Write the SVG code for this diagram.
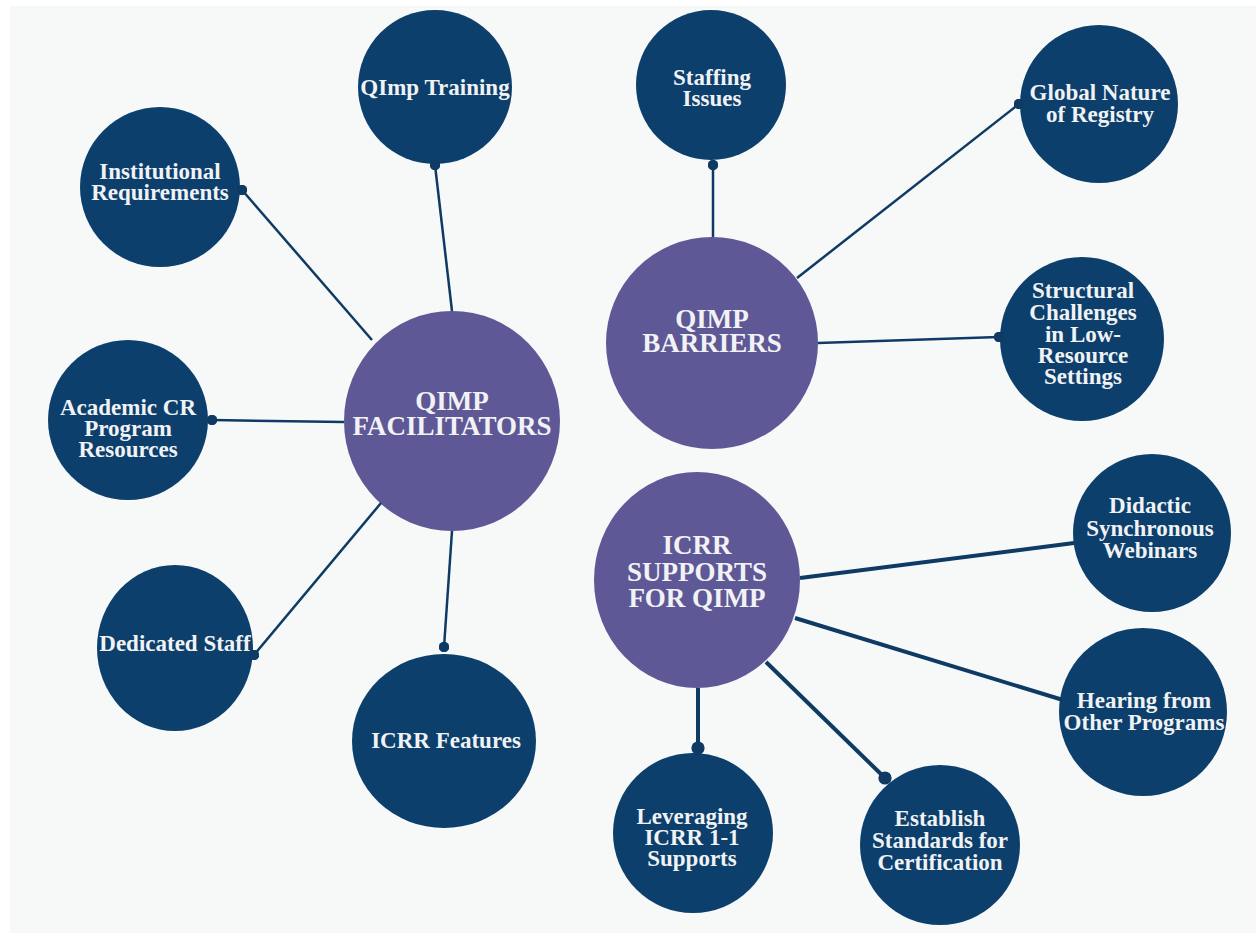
<svg xmlns="http://www.w3.org/2000/svg" width="1256" height="937" viewBox="0 0 1256 937">
  <defs>
    <style>
      .leaf { fill: #0c3f6c; }
      .hub { fill: #5f5896; }
      text { font-family: "Liberation Serif", "Times New Roman", serif; font-weight: bold; fill: #f1f2f4; text-anchor: middle; }
      .lt { font-size: 23px; }
      .ht { font-size: 27px; }
      .edge { stroke: #0f3a63; stroke-width: 2.5; fill: none; }
      .edge.thick { stroke-width: 4; }
    </style>
    <marker id="dot" viewBox="0 0 10 10" refX="5" refY="5" markerWidth="4.2" markerHeight="4.2" markerUnits="strokeWidth">
      <circle cx="5" cy="5" r="5" fill="#0f3a63"/>
    </marker>
    <marker id="dotS" viewBox="0 0 10 10" refX="5" refY="5" markerWidth="3.3" markerHeight="3.3" markerUnits="strokeWidth">
      <circle cx="5" cy="5" r="5" fill="#0f3a63"/>
    </marker>
  </defs>

  <!-- page -->
  <rect x="0" y="0" width="1256" height="937" fill="#ffffff"/>
  <rect x="10" y="6" width="1246" height="927" fill="#f7f9f9"/>

  <!-- nodes -->
  <g id="nodes">
    <g id="qimp-facilitators">
      <ellipse class="hub" cx="452" cy="421" rx="108" ry="110"/>
      <text class="ht" x="452" y="410">QIMP</text>
      <text class="ht" x="452" y="435">FACILITATORS</text>
    </g>
    <g id="qimp-training">
      <circle class="leaf" cx="435" cy="87" r="77"/>
      <text class="lt" x="435" y="95">QImp Training</text>
    </g>
    <g id="institutional-requirements">
      <circle class="leaf" cx="160" cy="187" r="80"/>
      <text class="lt" x="160" y="179">Institutional</text>
      <text class="lt" x="160" y="200">Requirements</text>
    </g>
    <g id="academic-cr-program-resources">
      <circle class="leaf" cx="128" cy="420" r="80"/>
      <text class="lt" x="128" y="415">Academic CR</text>
      <text class="lt" x="128" y="436">Program</text>
      <text class="lt" x="128" y="457">Resources</text>
    </g>
    <g id="dedicated-staff">
      <ellipse class="leaf" cx="175" cy="648" rx="78" ry="83"/>
      <text class="lt" x="175" y="651">Dedicated Staff</text>
    </g>
    <g id="icrr-features">
      <ellipse class="leaf" cx="444" cy="741" rx="92" ry="87"/>
      <text class="lt" x="446" y="748">ICRR Features</text>
    </g>

    <g id="qimp-barriers">
      <circle class="hub" cx="712" cy="343" r="106"/>
      <text class="ht" x="712" y="328">QIMP</text>
      <text class="ht" x="712" y="352">BARRIERS</text>
    </g>
    <g id="staffing-issues">
      <circle class="leaf" cx="711" cy="85" r="75"/>
      <text class="lt" x="712" y="85">Staffing</text>
      <text class="lt" x="712" y="106">Issues</text>
    </g>
    <g id="global-nature-of-registry">
      <circle class="leaf" cx="1099" cy="104" r="79"/>
      <text class="lt" x="1100" y="100">Global Nature</text>
      <text class="lt" x="1100" y="122">of Registry</text>
    </g>
    <g id="structural-challenges">
      <circle class="leaf" cx="1082" cy="339" r="82"/>
      <text class="lt" x="1083" y="298">Structural</text>
      <text class="lt" x="1083" y="320">Challenges</text>
      <text class="lt" x="1083" y="342">in Low-</text>
      <text class="lt" x="1083" y="363">Resource</text>
      <text class="lt" x="1083" y="384">Settings</text>
    </g>

    <g id="icrr-supports">
      <ellipse class="hub" cx="697" cy="580" rx="103" ry="108"/>
      <text class="ht" x="697" y="554">ICRR</text>
      <text class="ht" x="697" y="581">SUPPORTS</text>
      <text class="ht" x="697" y="607">FOR QIMP</text>
    </g>
    <g id="didactic-webinars">
      <circle class="leaf" cx="1152" cy="533" r="79"/>
      <text class="lt" x="1150" y="513">Didactic</text>
      <text class="lt" x="1150" y="536">Synchronous</text>
      <text class="lt" x="1150" y="558">Webinars</text>
    </g>
    <g id="hearing-from-other-programs">
      <circle class="leaf" cx="1143" cy="712" r="84"/>
      <text class="lt" x="1144" y="708">Hearing from</text>
      <text class="lt" x="1144" y="730">Other Programs</text>
    </g>
    <g id="leveraging-icrr-supports">
      <circle class="leaf" cx="693" cy="833" r="80"/>
      <text class="lt" x="692" y="824">Leveraging</text>
      <text class="lt" x="692" y="845">ICRR 1-1</text>
      <text class="lt" x="692" y="866">Supports</text>
    </g>
    <g id="establish-standards">
      <circle class="leaf" cx="940" cy="845" r="80"/>
      <text class="lt" x="940" y="826">Establish</text>
      <text class="lt" x="940" y="848">Standards for</text>
      <text class="lt" x="940" y="870">Certification</text>
    </g>
  </g>

  <!-- connectors -->
  <g id="connectors">
    <line class="edge" x1="372" y1="340" x2="242" y2="190" marker-end="url(#dot)"/>
    <line class="edge" x1="452" y1="311" x2="435" y2="165" marker-end="url(#dot)"/>
    <line class="edge" x1="344" y1="422" x2="212" y2="420" marker-end="url(#dot)"/>
    <line class="edge" x1="381" y1="503" x2="254" y2="655" marker-end="url(#dot)"/>
    <line class="edge" x1="452" y1="531" x2="444" y2="647" marker-end="url(#dot)"/>

    <line class="edge" x1="713" y1="237" x2="713" y2="165" marker-end="url(#dot)"/>
    <line class="edge" x1="797" y1="278" x2="1019" y2="104" marker-end="url(#dot)"/>
    <line class="edge" x1="818" y1="343" x2="999" y2="337" marker-end="url(#dot)"/>

    <line class="edge thick" x1="800" y1="578" x2="1074" y2="543"/>
    <line class="edge thick" x1="795" y1="618" x2="1063" y2="700"/>
    <line class="edge thick" x1="698" y1="688" x2="698" y2="748" marker-end="url(#dotS)"/>
    <line class="edge thick" x1="766" y1="662" x2="885" y2="778" marker-end="url(#dotS)"/>
  </g>
</svg>
